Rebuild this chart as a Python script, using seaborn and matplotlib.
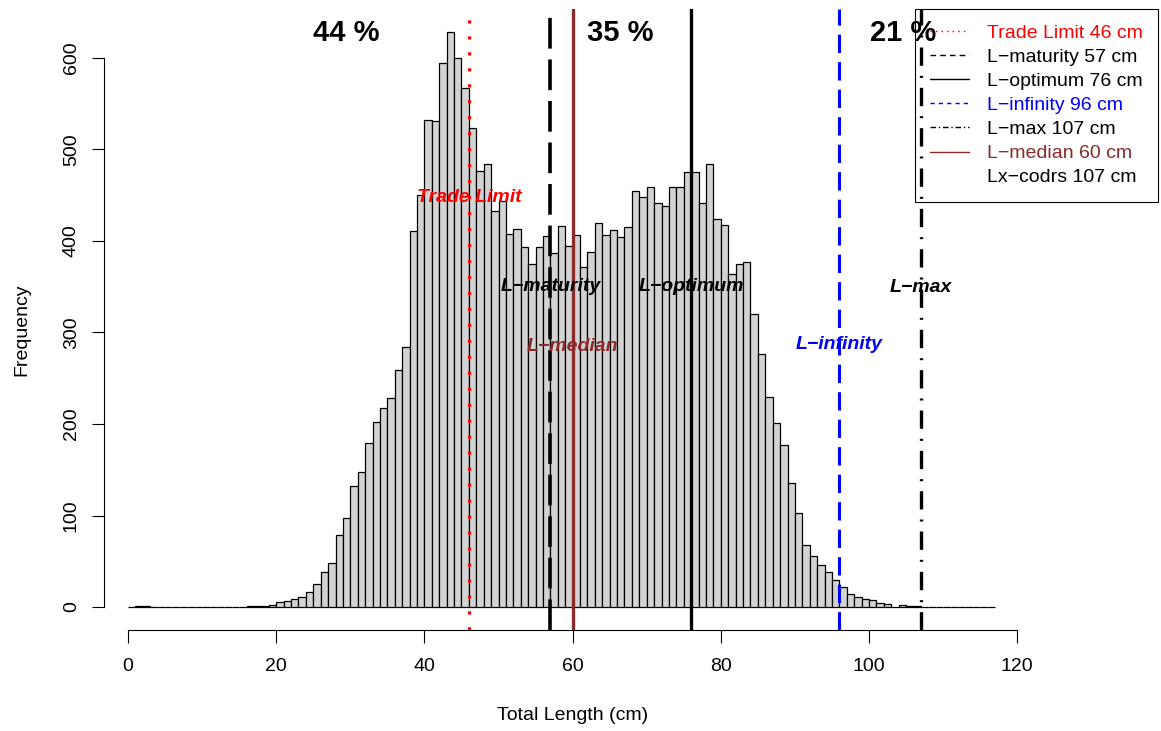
import numpy as np
import pandas as pd
import seaborn as sns
import matplotlib.pyplot as plt
from matplotlib.lines import Line2D

# counts per 1 cm length class, 0-1 ... 116-117 cm
counts = [0, 1, 1, 0, 0, 0, 0, 0, 0, 0,
          0, 0, 0, 0, 0, 0, 1, 1, 1, 2,
          5, 7, 9, 11, 16, 25, 38, 48, 79, 97,
          132, 148, 179, 202, 217, 228, 259, 284, 411, 450,
          532, 531, 594, 628, 600, 567, 523, 477, 484, 433,
          444, 408, 413, 393, 375, 393, 405, 387, 416, 395,
          407, 372, 388, 420, 407, 412, 404, 415, 455, 448,
          459, 441, 438, 459, 459, 475, 475, 442, 484, 424,
          418, 364, 375, 377, 320, 277, 229, 201, 177, 135,
          103, 68, 56, 46, 38, 30, 22, 14, 11, 9,
          8, 4, 3, 0, 2, 1, 1, 0, 0, 0,
          0, 0, 0, 0, 0, 0, 0]
n_bins = len(counts)

ref_names = ["Trade Limit", "L\u2212maturity", "L\u2212optimum", "L\u2212infinity", "L\u2212max", "L\u2212median"]
ref_values = [46, 57, 76, 96, 107, 60]
ref_colors = ["red", "black", "black", "blue", "black", "#8B2A2A"]
ref_label_y = [448, 350, 350, 287, 349, 285]

pct_labels = ["44 %", "35 %", "21 %"]
pct_x = [29.4, 66.4, 104.6]

sns.set_theme(style="ticks")
plt.rcParams['font.family'] = ['Liberation Sans', 'DejaVu Sans']
plt.rcParams['text.color'] = 'black'
plt.rcParams['axes.labelcolor'] = 'black'

df = pd.DataFrame({"length": np.arange(n_bins) + 0.5, "n": counts})

fig = plt.figure(figsize=(11.61, 7.31), dpi=100)
ax = fig.add_axes([103.5 / 1161, 101 / 731, 1054.5 / 1161, 621 / 731])

sns.histplot(data=df, x="length", weights="n", bins=n_bins, binrange=(0, n_bins),
             color="#D3D3D3", edgecolor="black", linewidth=0.9, alpha=1, ax=ax)

styles = [(0, (1, 4)), (0, (8.5, 3)), "-", (0, (6, 3)), (0, (5.5, 3, 0.6, 3)), "-"]
lws = [2.3, 2.6, 2.4, 2.2, 2.4, 2.4]
for v, c, ls, lw in zip(ref_values, ref_colors, styles, lws):
    ax.axvline(v, color=c, linestyle=ls, linewidth=lw, zorder=3)

for name, v, c, yy in zip(ref_names, ref_values, ref_colors, ref_label_y):
    ax.text(v, yy, name, color=c, fontsize=14, fontweight="bold", fontstyle="italic",
            ha="center", va="center", zorder=4)

for t, xx in zip(pct_labels, pct_x):
    ax.text(xx, 627, t, color="black", fontsize=21, fontweight="bold",
            ha="center", va="center", zorder=4)

ax.set_xlim(-3.31, 139.0)
ax.set_ylim(-25.1, 653.5)
ax.set_xticks(range(0, 121, 20))
ax.set_yticks(range(0, 601, 100))
ax.spines['left'].set_bounds(0, 600)
ax.spines['bottom'].set_bounds(0, 120)
ax.spines['top'].set_visible(False)
ax.spines['right'].set_visible(False)
for s in ['left', 'bottom']:
    ax.spines[s].set_linewidth(0.8)
    ax.spines[s].set_color("black")
ax.tick_params(axis='both', length=9, width=0.8, color="black", labelsize=14, labelcolor="black")
ax.tick_params(axis='x', pad=11)
ax.tick_params(axis='y', pad=8, labelrotation=90)
for lab in ax.get_yticklabels():
    lab.set_va("center")

ax.set_xlabel("Total Length (cm)", fontsize=14, color="black")
ax.set_ylabel("Frequency", fontsize=14, color="black")
ax.xaxis.set_label_coords((572.5 - 103.5) / 1054.5, -0.124)
ax.yaxis.set_label_coords(-0.0697, (630 - 330) / 621)

leg_labels = ["Trade Limit 46 cm", "L\u2212maturity 57 cm", "L\u2212optimum 76 cm", "L\u2212infinity 96 cm",
              "L\u2212max 107 cm", "L\u2212median 60 cm", "Lx\u2212codrs 107 cm"]
leg_colors = ["red", "black", "black", "blue", "black", "#8B2A2A", "black"]
leg_styles = [(0, (1, 3)), (0, (4, 3)), "-", (0, (3, 3)), (0, (4, 2, 1, 2)), "-", "none"]
handles = [Line2D([], [], color=c, linestyle=ls, linewidth=1) for c, ls in zip(leg_colors, leg_styles)]
leg = ax.legend(handles, leg_labels, loc="upper right", bbox_to_anchor=(1, 1), borderaxespad=0,
                fontsize=14, labelcolor=leg_colors, handlelength=2.0, handletextpad=0.9,
                labelspacing=0.33, borderpad=0.8, fancybox=False, facecolor="none",
                edgecolor="black", framealpha=1)
leg.get_frame().set_linewidth(0.8)

fig.savefig("out.png", dpi=100)
